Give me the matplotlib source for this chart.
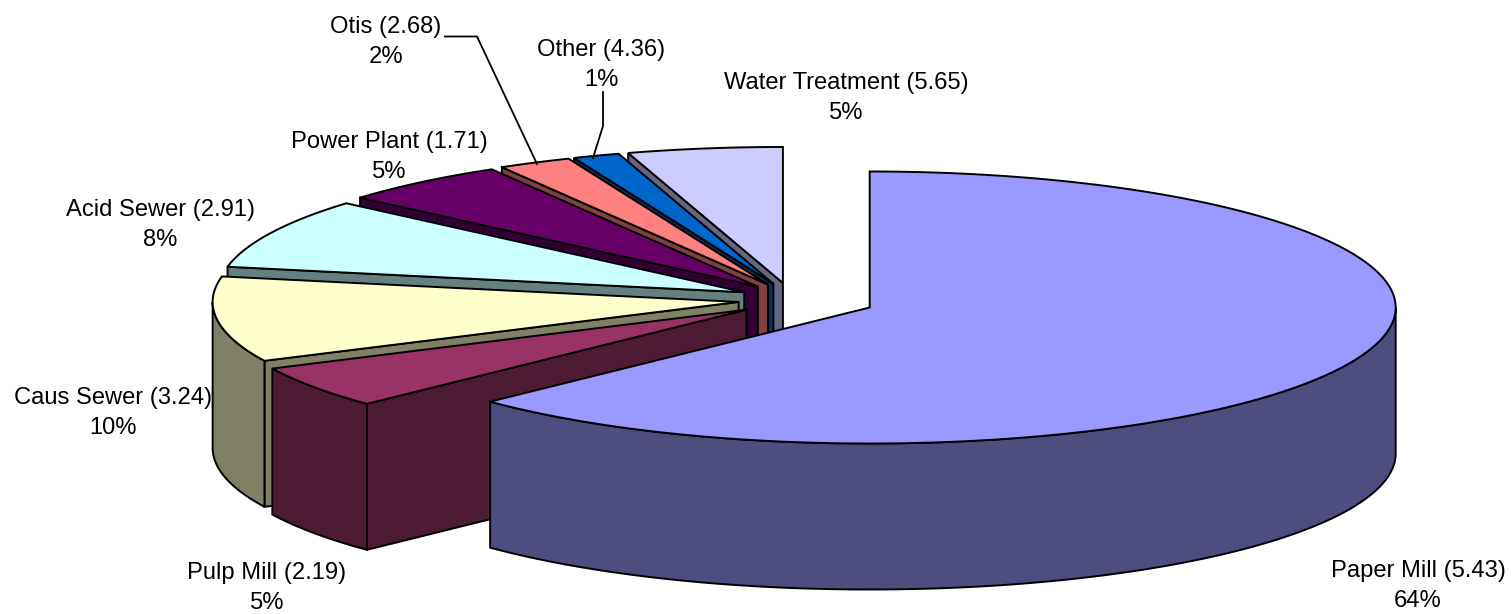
import numpy as np
import matplotlib
matplotlib.use('Agg')
import matplotlib.pyplot as plt
from matplotlib.patches import Polygon

# Dữ liệu
names = ['Paper Mill', 'Pulp Mill', 'Caus Sewer', 'Acid Sewer', 'Power Plant', 'Otis', 'Other', 'Water Treatment']
values = [5.43, 2.19, 3.24, 2.91, 1.71, 2.68, 4.36, 5.65]
shares = [63.5, 5.0, 10.0, 8.2, 5.1, 2.2, 1.4, 4.6]
colors = ['#9999FF', '#993366', '#FFFFCC', '#CCFFFF', '#660066', '#FF8080', '#0066CC', '#CCCCFF']
explode = [87, 52, 52, 52, 52, 52, 52, 52]

# Hình học của bánh 3D (đơn vị pixel)
cx, cy = 790.4, 300.3
rx, ry = 526, 136
depth = 146
explode_y = 17.5
black_lw = 1.4

label_pos = [(1418, 586), (267, 588), (113, 413), (160, 225), (389, 157), (386, 42), (601, 65), (846, 98)]

plt.rcParams['font.family'] = ['Liberation Sans', 'DejaVu Sans']

fig = plt.figure(figsize=(15.11, 6.14), dpi=100)
ax = fig.add_axes([0, 0, 1, 1])
ax.set_xlim(0, 1511)
ax.set_ylim(614, 0)
ax.axis('off')


def view_angle(t):
    # hiệu chỉnh nhẹ góc do phép chiếu 3D
    return t - 2.6 * np.abs(np.sin(np.radians(t) / 2)) ** 0.8


def rim(t, x0, y0):
    # t tính theo độ, chiều kim đồng hồ từ hướng 12 giờ
    r = np.radians(t)
    return x0 + rx * np.sin(r), y0 - ry * np.cos(r)


def face(pts, color, z):
    ax.add_patch(Polygon(pts, closed=True, facecolor=color, edgecolor='black',
                         linewidth=black_lw, joinstyle='miter', zorder=z))


def darker(color):
    return tuple(c * 0.5 for c in matplotlib.colors.to_rgb(color))


edges = np.concatenate(([0], np.cumsum(shares))) * 3.6

# Vẽ từ lát phía sau ra lát phía trước
for i in range(len(shares) - 1, -1, -1):
    mid = (edges[i] + edges[i + 1]) / 2
    t1, t2 = view_angle(edges[i]), view_angle(edges[i + 1])
    x0 = cx + explode[i] * np.sin(np.radians(mid))
    y0 = cy - explode_y * np.cos(np.radians(mid))
    z = (len(shares) - i) * 3
    side = darker(colors[i])

    # mặt cắt hướng về người xem
    if t1 > 180:
        xa, ya = rim(t1, x0, y0)
        face([(xa, ya), (x0, y0), (x0, y0 + depth), (xa, ya + depth)], side, z)

    # thành cong phía trước
    a, b = max(t1, 90), min(t2, 270)
    if b > a:
        ts = np.linspace(a, b, 120)
        xs, ys = rim(ts, x0, y0)
        top = list(zip(xs, ys))
        bottom = list(zip(xs, ys + depth))
        face(top + bottom[::-1], side, z + 1)

    # mặt trên
    ts = np.linspace(t1, t2, 240)
    xs, ys = rim(ts, x0, y0)
    face([(x0, y0)] + list(zip(xs, ys)), colors[i], z + 2)

# Nhãn
for name, val, share, (lx, ly) in zip(names, values, shares, label_pos):
    ax.text(lx, ly, f'{name} ({val:.2f})\n{share:.0f}%', ha='center', va='center',
            fontsize=17.1, color='black', linespacing=1.44, zorder=100)

# Đường dẫn nhãn
ax.plot([445, 477, 537], [36.5, 36.5, 164], color='black', lw=1.3, zorder=100)
ax.plot([603, 603, 593], [92, 126, 158], color='black', lw=1.3, zorder=100)

fig.savefig('out.png', dpi=100)
